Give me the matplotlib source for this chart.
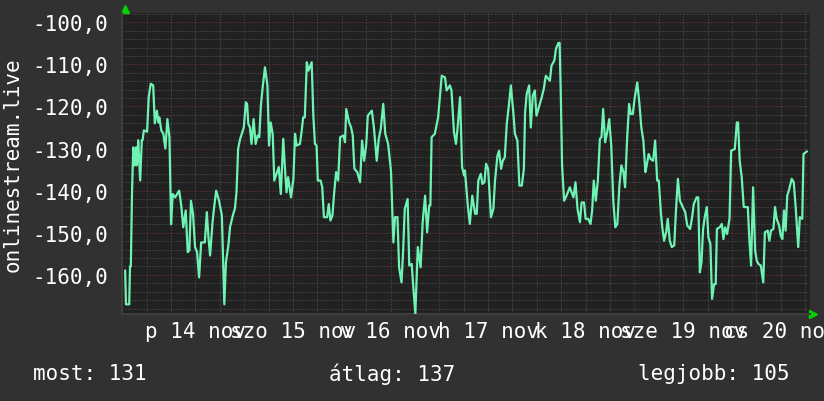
import matplotlib
matplotlib.use("Agg")
import matplotlib.pyplot as plt

# ---------------------------
# Data (hours since p 14 nov 00:00, signal in dB)
# ---------------------------

hours = [
    -5.3, -5.1, -4.3, -4.1, -3.9, -3.6, -3.3, -3.0, -2.6, -2.5, -2.2, -2.1, -1.6, -1.2, -1.0, -0.7,
    0.1, 0.5, 1.0, 1.6, 2.0, 2.5, 2.9, 3.1, 3.6, 4.1, 4.6, 5.1, 5.6, 6.0, 6.4, 7.0, 8.0, 8.5, 9.0,
    9.6, 10.1, 10.5, 10.9, 11.4, 11.9, 12.4, 12.9, 13.4, 14.3, 14.8, 15.2, 15.6, 16.2, 16.6, 17.1,
    17.8, 18.5, 19.1, 19.5, 20.1, 20.5, 21.3, 21.7, 22.1, 22.5,
    23.0, 23.4, 23.9, 24.4, 24.7, 25.0, 25.4, 25.8, 26.3, 26.8, 27.3, 27.7, 28.1, 28.5, 29.1, 29.7,
    30.1, 30.5, 31.0, 31.4, 32.1, 32.5, 33.0, 33.6, 34.0, 34.4, 34.8, 35.5, 36.1, 36.5, 36.9, 37.7,
    38.1, 38.5, 38.9, 39.4, 39.8, 40.6, 41.0, 41.4, 41.8, 42.1, 42.8, 43.2, 43.6, 44.4, 44.8, 45.2,
    45.7, 46.1, 46.6, 47.1, 47.6, 48.4, 48.8, 49.1, 49.8, 50.3,
    50.7, 51.1, 51.8, 52.5, 53.0, 53.5, 54.0, 54.4, 55.4, 55.9, 56.6, 57.1, 57.6, 58.2, 58.7, 59.4,
    60.1, 60.7, 61.1, 61.7, 62.1, 62.7, 63.1, 63.5, 64.2, 64.6, 65.2, 65.6, 66.1, 66.7, 67.4, 67.9,
    68.5, 69.0, 69.5, 69.8, 70.1, 70.9, 71.7, 72.6, 73.4, 73.8, 74.6, 75.0, 75.6, 76.1, 76.5, 77.1,
    77.6, 78.1, 78.3,
    79.0, 79.5, 80.1, 80.8, 81.2, 81.6, 82.2, 82.6, 83.1, 83.5, 84.0, 84.7, 85.3, 85.7, 86.3, 86.7,
    87.2, 87.6, 88.1, 88.6, 89.1, 89.6, 90.2, 90.6, 91.2, 91.7, 92.3, 92.8, 93.1, 93.5, 94.1, 94.5,
    95.0, 95.5, 95.9, 96.5, 97.2, 97.7, 98.2, 99.2, 99.6, 100.3, 100.7, 101.3, 101.6, 101.9, 102.2,
    102.7, 103.3, 104.1, 105.0, 105.5, 106.0, 106.6, 107.0,
    107.6, 108.0, 108.6, 109.2, 109.6, 110.0, 110.5, 111.0, 111.5, 111.9, 112.3, 112.8, 113.3, 113.8,
    114.3, 114.8, 115.3, 115.8, 116.3, 116.8, 117.3, 117.7, 118.2, 118.7, 119.1, 119.6, 120.1, 120.7,
    121.2, 121.7, 122.2, 122.7, 123.1, 123.5, 124.0, 124.6, 125.1, 125.6, 126.0, 126.5, 126.9, 127.3,
    127.8, 128.2, 128.7, 129.2, 129.8, 130.2, 130.7, 131.2, 131.9, 132.5, 133.0, 133.7, 134.2, 134.6,
    135.3,
    135.7, 136.1, 136.5, 136.9, 137.3, 137.8, 138.2, 138.7, 139.1, 139.6, 140.0, 140.3, 141.0, 141.5,
    141.9, 142.3, 142.8, 143.4, 143.8, 144.7, 145.2, 145.5, 145.9, 146.4, 146.9, 147.9, 148.3, 148.7,
    149.2, 149.7, 150.1, 150.5, 151.1, 151.7, 152.1, 152.8, 153.2, 153.6, 154.2, 154.6, 155.0, 155.6,
    156.0, 156.4, 156.8, 157.2, 157.6, 158.1, 158.7, 159.2, 159.7, 160.3, 160.7, 161.3, 161.6, 162.4,
]

signal = [
    -159.0, -167.0, -167.0, -158.0, -158.0, -140.0, -129.7, -134.0, -129.7, -134.0, -131.7, -128.0,
    -137.6, -128.0, -128.0, -125.7,
    -126.0, -117.8, -114.6, -115.0, -124.0, -121.0, -123.8, -122.6, -125.7, -126.5, -130.0, -123.0,
    -127.3, -148.0, -140.8, -141.6, -140.0, -143.5, -148.7, -144.7, -154.6, -154.2, -142.4, -145.5,
    -153.4, -154.6, -160.6, -152.3, -152.3, -145.1, -151.1, -155.4, -147.5, -143.9, -140.0, -142.4,
    -145.9, -167.0, -157.0, -153.0, -148.7, -145.5, -144.3, -140.4, -130.0,
    -127.7, -126.5, -125.0, -119.0, -119.4, -124.1, -125.0, -128.9, -123.0, -128.9, -126.9, -127.3,
    -119.8, -115.8, -110.7, -115.0, -129.3, -123.8, -126.5, -137.6, -135.6, -134.4, -140.8, -127.7,
    -134.4, -140.4, -136.8, -141.6, -137.2, -126.5, -129.3, -128.9, -126.1, -122.6, -122.6, -109.5,
    -111.5, -109.5, -122.2, -128.9, -129.3, -137.6, -137.6, -139.2, -146.3, -146.3, -143.2, -147.1,
    -145.9, -140.8, -135.6, -137.6, -127.3, -126.9, -128.5, -120.6, -123.8, -125.0,
    -126.9, -134.8, -135.6, -138.0, -128.1, -132.9, -129.3, -122.2, -121.0, -125.0, -132.9, -127.7,
    -125.3, -119.4, -126.5, -128.9, -135.2, -152.3, -146.3, -146.3, -158.2, -161.8, -154.2, -144.3,
    -142.0, -157.8, -157.4, -162.9, -169.3, -153.4, -158.2, -147.5, -141.2, -149.9, -143.5, -143.5,
    -127.3, -126.5, -122.6, -112.7, -113.1, -116.2, -115.0, -116.2, -126.1, -128.9, -125.0, -117.8,
    -134.4, -136.4, -135.2,
    -143.5, -147.9, -141.2, -145.5, -145.5, -137.6, -136.0, -138.4, -138.0, -133.6, -134.8, -146.3,
    -144.3, -137.6, -131.7, -130.5, -134.8, -132.9, -132.1, -124.1, -119.8, -115.0, -121.4, -126.5,
    -128.1, -138.8, -138.8, -134.8, -121.4, -117.0, -115.0, -125.0, -117.4, -116.2, -122.2, -120.2,
    -117.8, -115.8, -112.7, -113.9, -110.3, -109.1, -106.3, -104.9, -104.9, -117.8, -134.0, -142.4,
    -141.2, -139.2, -141.6, -138.0, -144.3, -147.5, -142.8,
    -142.8, -146.7, -146.7, -147.9, -144.7, -137.6, -142.4, -137.6, -127.7, -127.3, -120.6, -128.5,
    -126.1, -123.0, -129.3, -142.4, -148.7, -147.9, -138.8, -134.0, -135.6, -139.2, -127.7, -119.4,
    -121.8, -121.8, -117.8, -114.3, -119.0, -125.0, -128.1, -135.6, -133.6, -131.3, -132.5, -132.9,
    -128.1, -137.6, -137.6, -145.1, -149.1, -151.9, -149.9, -146.7, -151.9, -153.4, -153.0, -145.1,
    -137.2, -142.4, -143.9, -145.1, -148.3, -149.1, -146.3, -143.2, -141.6,
    -141.6, -159.4, -157.0, -149.1, -146.3, -143.9, -151.1, -152.7, -165.7, -162.2, -162.2, -149.1,
    -148.7, -147.9, -151.5, -148.7, -150.3, -146.7, -130.5, -130.1, -123.8, -123.8, -132.9, -136.8,
    -143.9, -143.9, -151.9, -157.8, -139.2, -154.2, -156.6, -157.4, -157.8, -161.8, -149.9, -149.5,
    -151.9, -149.5, -149.1, -143.9, -146.7, -148.3, -150.7, -151.5, -144.7, -149.5, -141.2, -139.6,
    -137.2, -138.0, -144.3, -153.4, -146.3, -146.7, -131.3, -130.7,
]

day_labels = ["p 14 nov", "szo 15 nov", "v 16 nov", "h 17 nov", "k 18 nov", "sze 19 nov", "cs 20 nov"]
y_ticks = [-160, -150, -140, -130, -120, -110, -100]
y_tick_labels = ["-160,0", "-150,0", "-140,0", "-130,0", "-120,0", "-110,0", "-100,0"]
y_label = "onlinestream.live"
summary = ["most: 131", "átlag: 137", "legjobb: 105"]

# ---------------------------
# Style
# ---------------------------

BG = "#313131"
CANVAS = "#212121"
LINE = "#6ff3b4"
MAJOR = "#7a3a38"
MINOR = "#575757"
ARROW = "#00d400"
FONT = "DejaVu Sans Mono"
FS = 15

plt.rcParams["font.family"] = FONT

fig = plt.figure(figsize=(8.24, 4.02), dpi=100, facecolor=BG)
ax = fig.add_axes([122.5 / 824, 1 - 315 / 402, 687.5 / 824, 301 / 402])
ax.set_facecolor(CANVAS)

ax.plot(hours, signal, color=LINE, linewidth=1.6, zorder=3)

ax.set_xlim(-5.95, 163.2)
ax.set_ylim(-169.3, -97.8)

# x: day lines (major), 6 hour lines (minor), labels at noon
day_ticks = [24 * d for d in range(7)]
six_hour_ticks = [h for h in range(6, 163, 6) if h % 24 != 0]
six_hour_labels = []
for h in six_hour_ticks:
    if h % 24 == 12:
        six_hour_labels.append(day_labels[h // 24])
    else:
        six_hour_labels.append("")
ax.set_xticks(day_ticks, [""] * len(day_ticks))
ax.set_xticks(six_hour_ticks, six_hour_labels, minor=True)

ax.set_yticks(y_ticks, y_tick_labels)
ax.set_yticks([v for v in range(-168, -97, 2) if v % 10 != 0], minor=True)

ax.grid(True, which="major", color=MAJOR, linestyle=(0, (1, 2)), linewidth=0.72, zorder=1)
ax.grid(True, which="minor", color=MINOR, linestyle=(0, (1, 2)), linewidth=0.72, zorder=1)
ax.set_axisbelow(True)

ax.tick_params(axis="both", which="both", length=0, colors="white", labelsize=FS)
ax.tick_params(axis="y", pad=10)
ax.tick_params(axis="x", which="minor", pad=5)

for side in ["top", "right"]:
    ax.spines[side].set_visible(False)
for side in ["left", "bottom"]:
    ax.spines[side].set_color("#3e3e3e")
    ax.spines[side].set_linewidth(1.5)

# arrows at the axis ends
ax.plot([0.004], [1.012], marker="^", markersize=6, color=ARROW, transform=ax.transAxes, clip_on=False)
ax.plot([1.005], [0.0], marker=">", markersize=6, color=ARROW, transform=ax.transAxes, clip_on=False)

fig.text(13 / 824, 1 - 165 / 402, y_label, rotation=90, color="white", fontsize=FS,
         ha="center", va="center")

fig.text(33 / 824, 1 - 374 / 402, summary[0], color="white", fontsize=FS, ha="left", va="center")
fig.text(392 / 824, 1 - 374 / 402, summary[1], color="white", fontsize=FS, ha="center", va="center")
fig.text(790 / 824, 1 - 374 / 402, summary[2], color="white", fontsize=FS, ha="right", va="center")

fig.savefig("out.png", dpi=100, facecolor=BG)
